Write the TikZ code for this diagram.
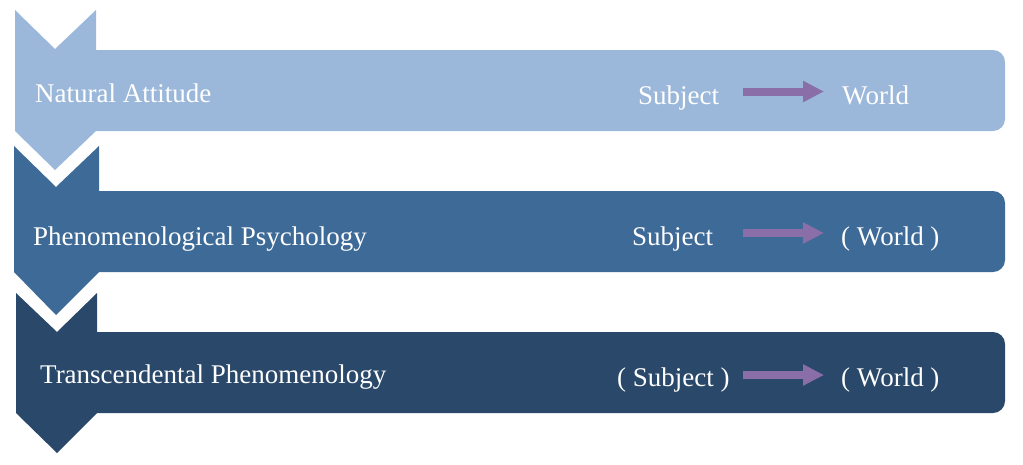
\documentclass[tikz,border=0pt]{standalone}
\usepackage{fontspec}
\setmainfont{Liberation Serif}
\usepackage{xcolor}
\usetikzlibrary{arrows.meta, positioning}
\definecolor{natural}{HTML}{9BB8DA}
\definecolor{psycho}{HTML}{3E6A98}
\definecolor{transc}{HTML}{2A4869}
\definecolor{flowpurple}{HTML}{8A6EA8}
\tikzset{
    x=1pt, y=-1pt, % pixel like units
    >={Triangle[length=21pt,width=20pt]}, % block arrow head
    stagetext/.style={anchor=base west, inner sep=0pt, text=white, font=\fontsize{27}{32}\selectfont}, % all the labels
    stagebar/.style={rounded corners=12pt}, % the long bars
}
\tikzstyle{flow} = [line width=8pt, ->, draw=flowpurple]

\begin{document}
\begin{tikzpicture}
    \useasboundingbox (0,0) rectangle (1023,464);
    % natural attitude
    \fill[natural, stagebar] (55,50) rectangle (1005,131);
    \fill[natural] (15,10) -- (55,49) -- (96,10) -- (96,131) -- (55,170) -- (15,131) -- cycle;
    % phenomenological psychology
    \fill[psycho, stagebar] (55,191) rectangle (1005,272);
    \fill[psycho] (14,146) -- (56,187) -- (99,146) -- (99,272) -- (56,315) -- (14,272) -- cycle;
    % transcendental phenomenology
    \fill[transc, stagebar] (55,332) rectangle (1005,413);
    \fill[transc] (16,293) -- (57,332) -- (97,293) -- (97,413) -- (57,453) -- (16,413) -- cycle;

    \node[stagetext] (natural) at (35,102) {Natural Attitude};
    \node[stagetext] (psycho) at (33,245) {Phenomenological Psychology};
    \node[stagetext] (transc) at (40,383) {Transcendental Phenomenology};

    \node[stagetext] (subj1) at (638,104) {Subject};
    \node[stagetext] (world1) at (842,104) {World};
    \node[stagetext] (subj2) at (632,245) {Subject};
    \node[stagetext] (world2) at (841,245) {( World )};
    \node[stagetext] (subj3) at (617,386) {( Subject )};
    \node[stagetext] (world3) at (841,386) {( World )};

    \coordinate (from1) at (743,91.5);
    \coordinate (to1) at (824,91.5);
    \coordinate (from2) at (743,233);
    \coordinate (to2) at (824,233);
    \coordinate (from3) at (743,375);
    \coordinate (to3) at (824,375);
    \draw[flow] (from1) -- (to1);
    \draw[flow] (from2) -- (to2);
    \draw[flow] (from3) -- (to3);
\end{tikzpicture}
\end{document}
